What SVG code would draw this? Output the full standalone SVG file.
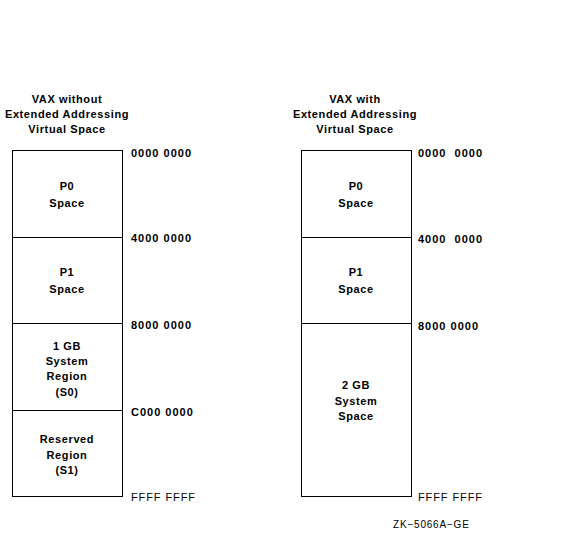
<svg xmlns="http://www.w3.org/2000/svg" width="584" height="534" viewBox="0 0 584 534">
<style>
text{font-family:"Liberation Sans",Arial,sans-serif;font-size:11px;font-weight:bold;fill:#000;letter-spacing:0.6px}
.c{text-anchor:middle}
.a{letter-spacing:1px}
.n{font-weight:normal;letter-spacing:0.9px}
.b{fill:#fff;stroke:#000;stroke-width:1}
</style>
<rect width="584" height="534" fill="#fff"/>
<g id="left">
<text class="c" x="67" y="103">VAX without</text>
<text class="c" x="67" y="118">Extended Addressing</text>
<text class="c" x="67" y="133">Virtual Space</text>
<rect class="b" x="12.5" y="150.5" width="110" height="346"/>
<line x1="12.5" y1="237.5" x2="122.5" y2="237.5" stroke="#000"/>
<line x1="12.5" y1="323.5" x2="122.5" y2="323.5" stroke="#000"/>
<line x1="12.5" y1="410.5" x2="122.5" y2="410.5" stroke="#000"/>
<text class="c" x="67" y="190">P0</text>
<text class="c" x="67" y="207">Space</text>
<text class="c" x="67" y="276">P1</text>
<text class="c" x="67" y="293">Space</text>
<text class="c" x="67" y="350">1 GB</text>
<text class="c" x="67" y="365">System</text>
<text class="c" x="67" y="380">Region</text>
<text class="c" x="67" y="396">(S0)</text>
<text class="c" x="67" y="443">Reserved</text>
<text class="c" x="67" y="459">Region</text>
<text class="c" x="67" y="474">(S1)</text>
<text class="a" x="131" y="157">0000 0000</text>
<text class="a" x="131" y="242">4000 0000</text>
<text class="a" x="131" y="329">8000 0000</text>
<text class="a" x="131" y="416">C000 0000</text>
<text class="n" x="131" y="501">FFFF FFFF</text>
</g>
<g id="right">
<text class="c" x="355" y="103">VAX with</text>
<text class="c" x="355" y="118">Extended Addressing</text>
<text class="c" x="355" y="133">Virtual Space</text>
<rect class="b" x="301.5" y="150.5" width="110" height="346"/>
<line x1="301.5" y1="237.5" x2="411.5" y2="237.5" stroke="#000"/>
<line x1="301.5" y1="323.5" x2="411.5" y2="323.5" stroke="#000"/>
<text class="c" x="356" y="190">P0</text>
<text class="c" x="356" y="207">Space</text>
<text class="c" x="356" y="276">P1</text>
<text class="c" x="356" y="293">Space</text>
<text class="c" x="356" y="389">2 GB</text>
<text class="c" x="356" y="405">System</text>
<text class="c" x="356" y="420">Space</text>
<text class="a" x="418" y="157" xml:space="preserve">0000  0000</text>
<text class="a" x="418" y="243" xml:space="preserve">4000  0000</text>
<text class="a" x="418" y="330">8000 0000</text>
<text class="n" x="418" y="501">FFFF FFFF</text>
</g>
<text class="n" x="393" y="528" style="font-size:10px;letter-spacing:0.8px">ZK−5066A−GE</text>
<g id="connectors"/>
</svg>
